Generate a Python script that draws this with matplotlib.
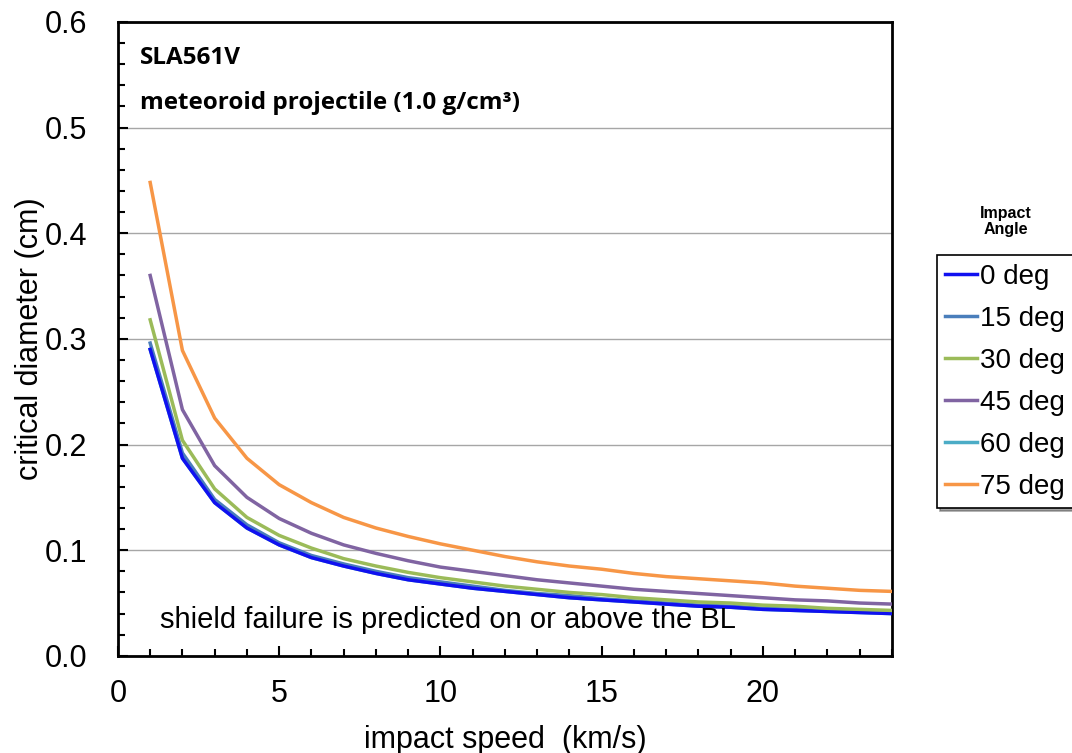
import matplotlib
matplotlib.use("Agg")
from matplotlib import pyplot as plt
from matplotlib.patches import Rectangle
from matplotlib.ticker import MultipleLocator, FormatStrFormatter

plt.rcParams['font.family'] = ['Liberation Sans', 'DejaVu Sans']

speed = list(range(1, 25))

d_0 = [0.290, 0.187, 0.145, 0.121, 0.105, 0.093, 0.085, 0.078, 0.072, 0.068, 0.064, 0.061,
       0.058, 0.055, 0.053, 0.051, 0.049, 0.047, 0.046, 0.044, 0.043, 0.042, 0.041, 0.040]
d_15 = [0.296, 0.192, 0.148, 0.124, 0.107, 0.095, 0.087, 0.080, 0.074, 0.070, 0.066, 0.062,
        0.059, 0.057, 0.054, 0.052, 0.050, 0.048, 0.047, 0.045, 0.044, 0.043, 0.042, 0.041]
d_30 = [0.318, 0.204, 0.158, 0.131, 0.114, 0.102, 0.092, 0.085, 0.079, 0.074, 0.070, 0.066,
        0.063, 0.060, 0.058, 0.055, 0.053, 0.051, 0.050, 0.048, 0.047, 0.045, 0.044, 0.043]
d_45 = [0.360, 0.233, 0.180, 0.150, 0.130, 0.116, 0.105, 0.097, 0.090, 0.084, 0.080, 0.076,
        0.072, 0.069, 0.066, 0.063, 0.061, 0.059, 0.057, 0.055, 0.053, 0.052, 0.050, 0.049]
d_60 = [0.290, 0.187, 0.145, 0.121, 0.105, 0.093, 0.085, 0.078, 0.072, 0.068, 0.064, 0.061,
        0.058, 0.055, 0.053, 0.051, 0.049, 0.047, 0.046, 0.044, 0.043, 0.042, 0.041, 0.040]
d_75 = [0.448, 0.289, 0.225, 0.187, 0.162, 0.145, 0.131, 0.121, 0.113, 0.106, 0.100, 0.094,
        0.089, 0.085, 0.082, 0.078, 0.075, 0.073, 0.071, 0.069, 0.066, 0.064, 0.062, 0.061]

# (label, values, colour, zorder) -- 60 deg sits underneath the 0 deg line
series = [
    ("0 deg", d_0, "#1010f0", 4),
    ("15 deg", d_15, "#4a7ebb", 3),
    ("30 deg", d_30, "#9bbb59", 5),
    ("45 deg", d_45, "#8064a2", 6),
    ("60 deg", d_60, "#4bacc6", 2),
    ("75 deg", d_75, "#f79646", 7),
]

fig = plt.figure(figsize=(10.72, 7.53), dpi=100)
ax = fig.add_axes([0.110, 0.129, 0.722, 0.842])

for label, vals, color, z in series:
    ax.plot(speed, vals, '-', color=color, lw=2.5, label=label, zorder=z)

ax.set_xlim(0, 24)
ax.set_ylim(0, 0.6)
ax.xaxis.set_major_locator(MultipleLocator(5))
ax.xaxis.set_minor_locator(MultipleLocator(1))
ax.yaxis.set_major_locator(MultipleLocator(0.1))
ax.yaxis.set_minor_locator(MultipleLocator(0.02))
ax.yaxis.set_major_formatter(FormatStrFormatter('%.1f'))
ax.tick_params(which='both', direction='in', width=1.5, labelsize=22, top=False, right=False)
ax.tick_params(which='major', length=7)
ax.tick_params(axis='y', which='major', pad=22)
ax.tick_params(axis='x', which='major', pad=17)
ax.tick_params(which='minor', length=5)
for s in ax.spines.values():
    s.set_linewidth(2)
ax.grid(axis='y', which='major', color='#a6a6a6', lw=1)
ax.set_axisbelow(True)

ax.set_xlabel("impact speed  (km/s)", fontsize=22, labelpad=11)
ax.set_ylabel("critical diameter (cm)", fontsize=22, labelpad=0)

bold_font = ['Open Sans', 'DejaVu Sans']
ax.text(0.028, 0.943, "SLA561V", transform=ax.transAxes, fontsize=17.5,
        fontweight='bold', family=bold_font, va='center')
ax.text(0.028, 0.872, "meteoroid projectile (1.0 g/cm³)", transform=ax.transAxes,
        fontsize=17.5, fontweight='bold', family=bold_font, va='center')

note = ax.text(1.3, 0.0335, "shield failure is predicted on or above the BL",
               fontsize=21, va='center', zorder=8)
clip = Rectangle((0, 0.0248), 24, 0.05, transform=ax.transData, visible=False)
ax.add_patch(clip)
note.set_clip_path(clip)

leg = ax.legend(loc='upper left', bbox_to_anchor=(0.874, 0.661),
                bbox_transform=fig.transFigure, fontsize=20, frameon=True,
                fancybox=False, shadow=True, handlelength=1.15, handletextpad=0.1,
                labelspacing=0.58, borderpad=0.3, borderaxespad=0)
leg.get_frame().set_edgecolor('black')
leg.get_frame().set_linewidth(1.2)

fig.text(0.938, 0.706, "Impact\nAngle", ha='center', va='center', fontsize=11.5,
         fontweight='bold', linespacing=1.1)

fig.savefig('out.png', dpi=100)
